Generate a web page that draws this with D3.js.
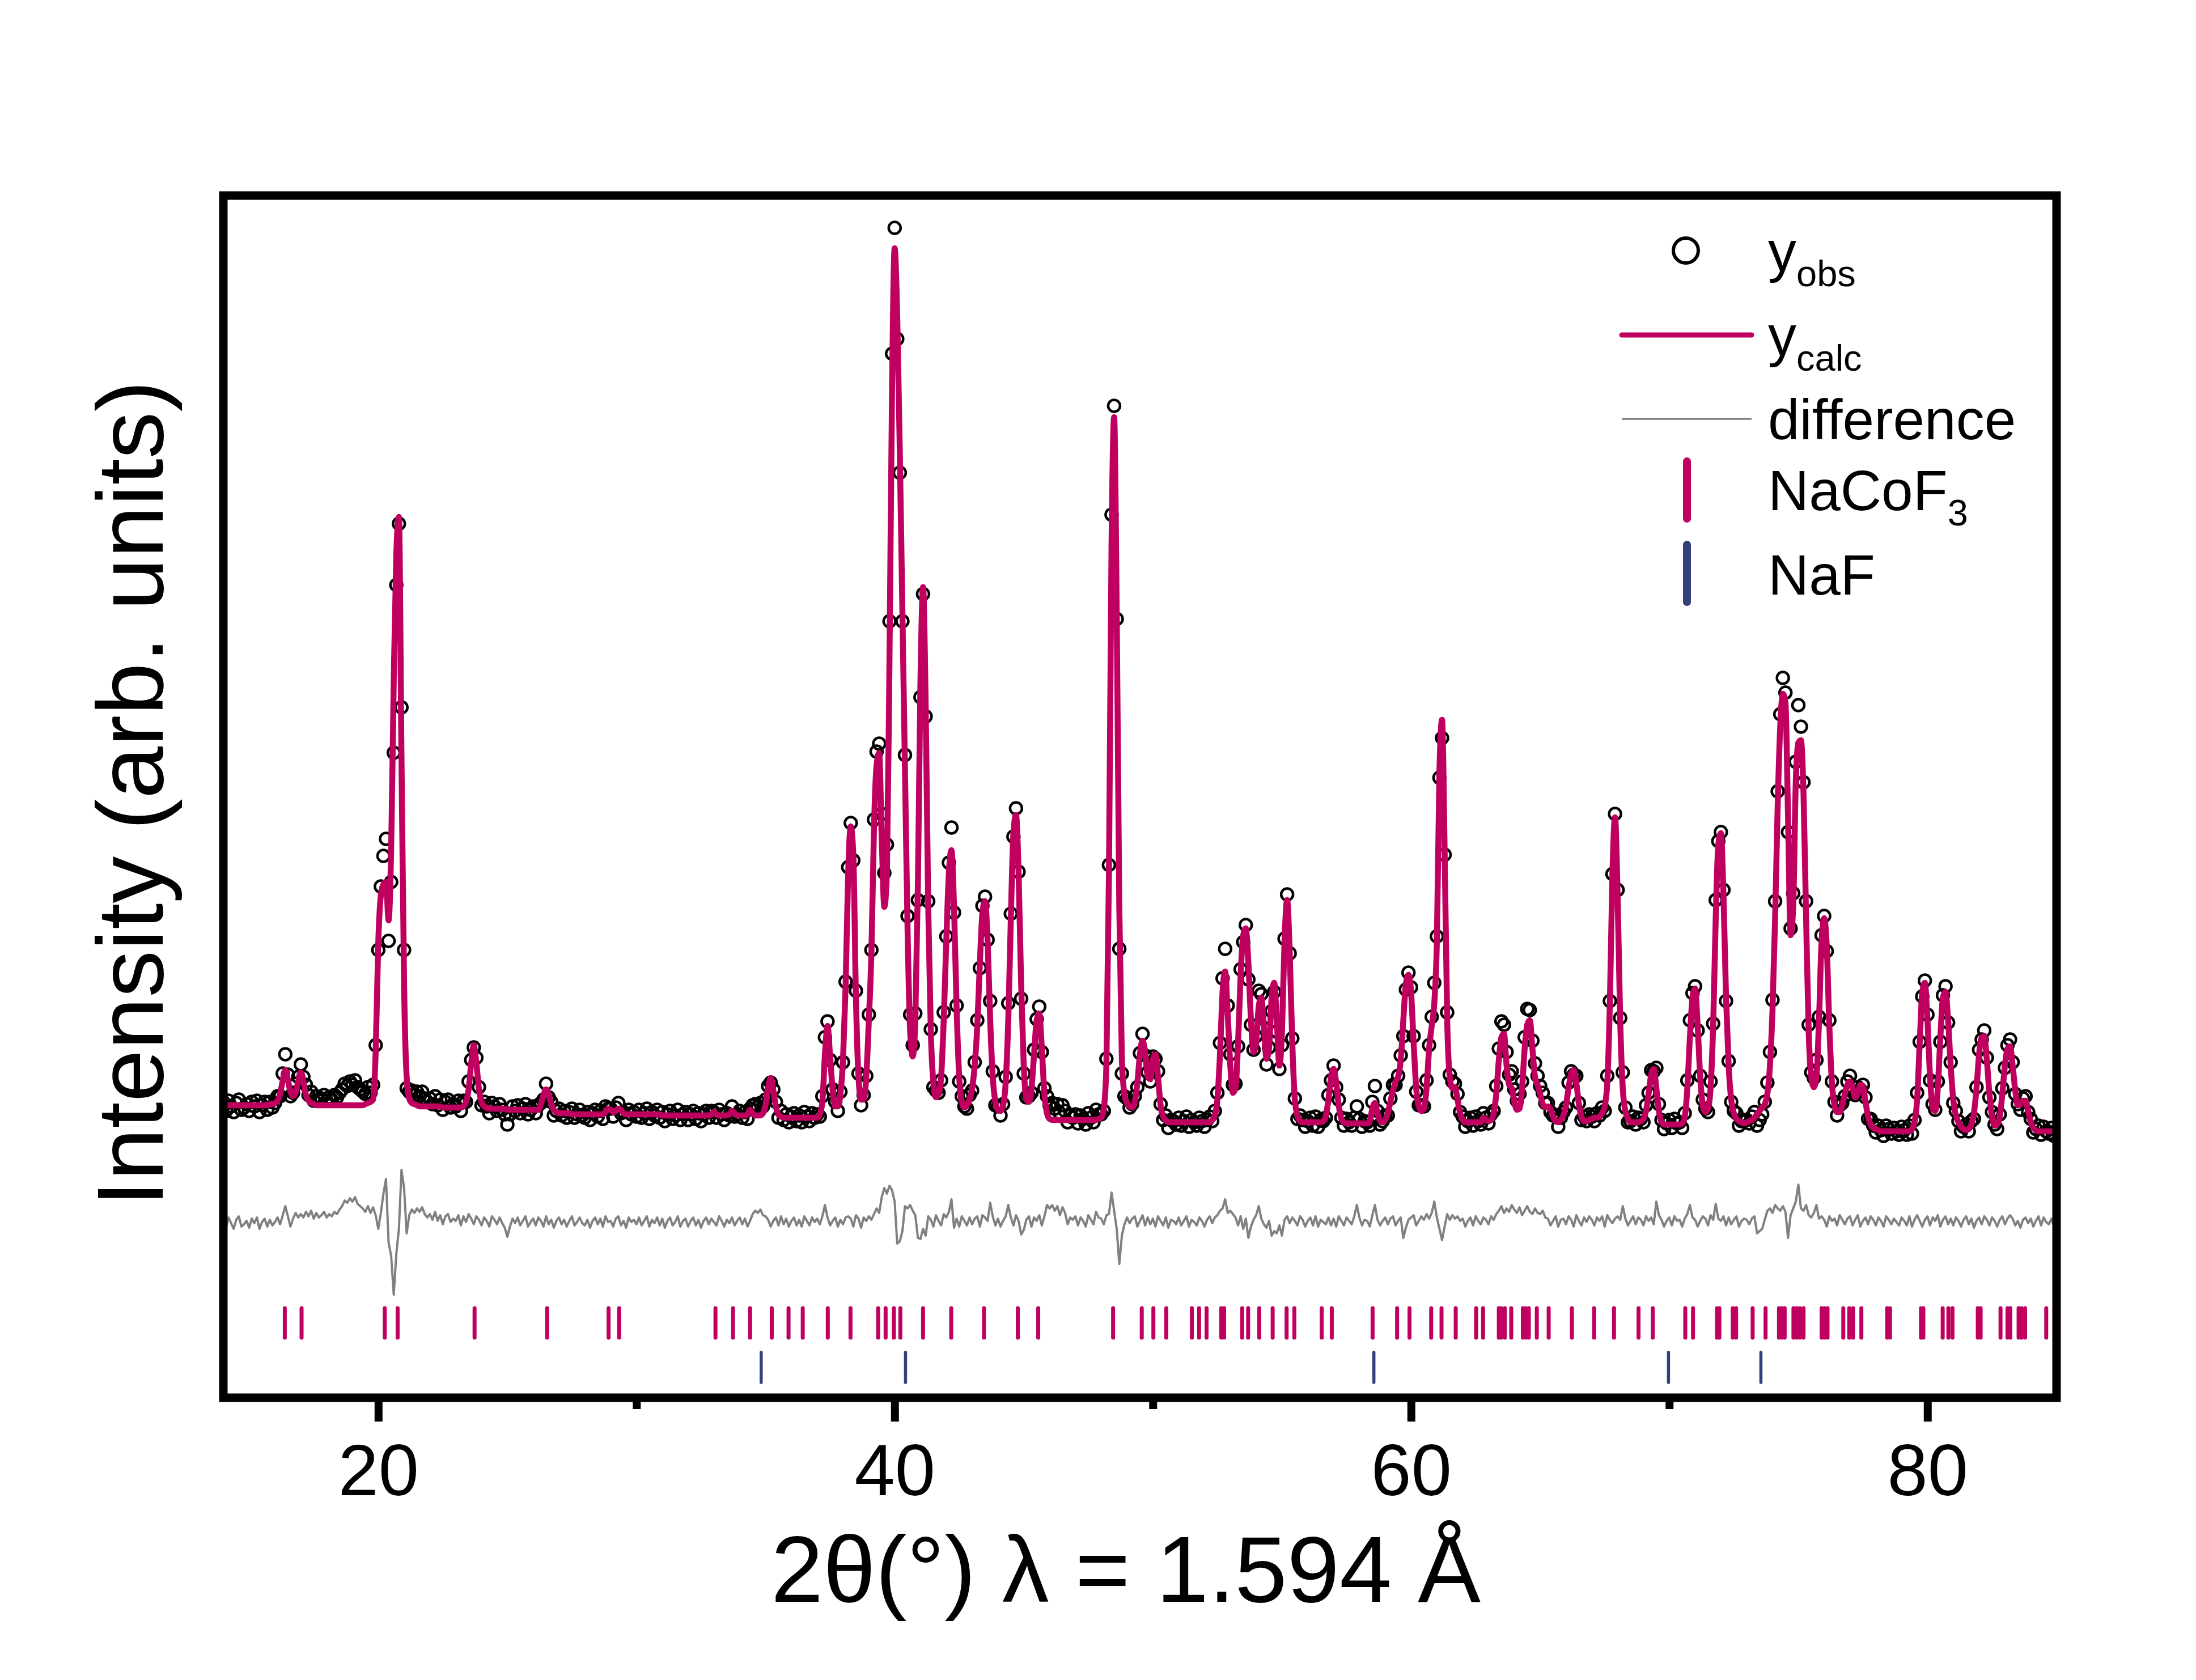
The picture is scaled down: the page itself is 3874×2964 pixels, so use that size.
<!DOCTYPE html>
<html>
<head>
<meta charset="utf-8">
<script src="https://cdn.jsdelivr.net/npm/d3@7"></script>
<style>
  body { margin: 0; background: #fff; }
  svg { display: block; }
  text { font-family: "Liberation Sans", Arial, Helvetica, sans-serif; fill: #000; }
</style>
</head>
<body>
<svg width="3874" height="2964"></svg>
<script>
// 2theta grid of the pattern (degrees)
const tthStart = 14.0;
const tthStep = 0.1;

// calculated profile, one row per degree (14.0 ... 84.9, then 85.0)
const yCalc = [
  125,125,125,125,125,125,125,125,125,125,
  125,125,125,125,125,125,125,125,126,126,
  127,129,135,147,156,147,137,133,136,146,
  154,146,134,129,127,126,125,125,125,125,
  125,125,125,125,125,125,125,125,125,125,
  125,125,125,125,125,126,127,128,130,172,
  268,310,320,322,288,352,500,612,644,430,
  232,150,131,127,126,125,124,124,124,124,
  124,124,124,124,124,123,123,123,123,123,
  123,123,123,124,128,139,162,178,162,139,
  128,124,123,122,122,122,122,122,122,122,
  121,121,121,121,121,121,121,121,121,121,
  121,121,121,126,134,139,134,126,121,119,
  118,118,118,118,118,117,117,117,117,117,
  117,117,117,117,117,117,117,117,119,122,
  121,119,120,122,121,118,117,117,117,117,
  117,117,117,117,117,117,117,117,117,117,
  116,116,116,116,116,116,116,116,116,116,
  116,116,116,116,116,116,116,116,116,117,
  119,117,116,116,116,116,117,120,118,116,
  116,116,116,117,121,118,116,116,116,118,
  125,140,149,138,124,117,115,114,114,114,
  114,114,114,114,114,114,114,114,114,114,
  114,117,128,170,195,168,138,124,124,135,
  165,230,330,371,345,220,150,130,130,150,
  200,260,370,425,436,360,300,330,520,760,
  881,820,700,560,420,280,190,168,200,320,
  500,582,480,300,190,145,132,135,150,200,
  270,330,350,300,210,150,128,123,125,130,
  140,160,195,250,295,305,270,200,150,128,
  121,120,125,145,200,290,365,381,330,230,
  160,130,128,140,170,200,206,175,135,118,
  113,112,112,112,112,112,112,112,112,112,
  112,112,112,112,112,112,112,112,112,113,
  114,122,160,330,620,732,560,300,165,135,
  127,124,123,128,145,170,182,172,150,148,
  165,170,150,125,115,112,110,110,110,110,
  110,110,110,110,110,110,110,110,110,110,
  110,110,110,112,116,130,170,225,243,205,
  160,136,140,180,240,275,281,250,200,172,
  180,212,220,195,166,175,220,233,200,160,
  190,270,306,260,180,130,116,111,110,110,
  110,110,110,110,110,110,111,116,130,150,
  157,145,125,113,110,109,109,109,109,109,
  109,109,109,109,111,122,127,118,111,110,
  112,118,128,138,146,150,165,200,232,240,
  225,180,140,124,120,122,140,175,195,215,
  270,420,465,350,200,150,140,141,130,118,
  112,110,110,110,110,110,110,110,114,112,
  111,112,118,135,165,185,188,160,143,140,
  128,121,122,140,175,196,200,175,150,143,
  135,126,123,124,122,115,111,110,112,116,
  125,140,153,156,145,126,115,111,111,112,
  113,114,114,115,118,124,145,215,330,379,
  310,200,140,120,113,110,110,110,110,111,
  113,120,135,152,157,140,120,110,108,108,
  108,108,108,108,108,109,115,140,185,220,
  228,195,150,125,119,122,140,195,290,355,
  365,310,220,160,130,118,113,111,110,109,
  110,111,112,114,117,120,123,126,135,160,
  210,290,390,460,488,480,380,275,300,410,
  445,447,400,290,190,150,141,150,200,270,
  290,265,195,145,125,119,119,125,135,143,
  146,140,132,135,143,142,128,115,108,105,
  104,103,102,102,102,102,102,102,102,102,
  102,102,102,102,104,110,130,180,225,233,
  200,150,122,120,140,185,220,225,200,160,
  130,116,110,106,104,103,104,108,118,140,
  170,185,186,165,135,115,107,108,115,135,
  160,175,177,160,138,125,126,129,129,120,
  110,105,103,102,102,102,102,102,102,102,
  102
];

// difference curve yobs - ycalc, same grid
const yDiff = [
  3,-5,4,-1,-6,2,5,-4,-2,1,
  -5,3,-1,4,-6,0,3,-4,2,-3,
  0,4,-2,6,14,5,-4,3,8,4,
  7,4,9,5,10,3,8,4,6,9,
  4,7,5,9,7,11,14,19,17,21,
  18,22,16,14,12,9,14,8,13,6,
  -6,8,25,38,-18,-30,-64,-28,-6,46,
  30,-10,6,11,8,12,9,13,7,4,
  7,2,9,1,6,-2,5,7,0,3,
  1,6,-3,5,0,7,3,-2,5,2,
  -3,4,1,-4,5,2,-2,4,-1,-5,
  -13,-4,3,-1,4,-3,1,5,-4,0,
  3,-3,4,1,-4,5,-2,2,-5,1,
  4,-2,2,-4,1,5,-3,0,4,-1,
  -3,2,-5,1,4,-2,3,-4,5,0,
  1,-4,3,5,-3,1,-5,4,0,2,
  -2,4,-3,1,5,-4,2,-1,4,-3,
  3,-5,1,4,-3,0,5,-4,1,3,
  -4,1,4,-3,2,-5,1,4,-2,3,
  0,-3,5,1,-4,2,-1,4,-3,1,
  4,-2,3,-4,1,7,10,8,11,6,
  5,2,-4,1,4,-3,5,-2,3,-4,
  1,4,-3,2,-4,5,1,-3,4,0,
  3,-2,5,15,4,-3,1,4,-4,2,
  -2,4,5,3,-4,6,3,-5,4,1,
  5,2,7,12,8,22,30,25,32,28,
  18,-19,-17,-8,14,12,15,10,6,-14,
  -15,-6,-12,5,2,-4,6,1,-3,7,
  4,9,20,-5,3,-4,5,1,-3,4,
  -2,3,5,-4,6,4,1,17,5,-3,
  3,-4,1,5,15,4,-3,6,1,-11,
  -7,2,5,-4,4,1,6,-3,5,15,
  12,15,10,14,6,13,8,-2,4,2,
  5,-3,4,1,-4,6,2,-2,9,4,
  3,-2,6,7,26,10,-6,-37,-12,-2,
  4,-1,3,5,-4,1,6,-3,4,-2,
  3,-4,5,1,-3,4,-5,2,1,-2,
  4,-3,1,5,-4,2,0,-3,4,1,
  -4,2,5,-1,4,6,10,12,20,8,
  10,7,4,-3,5,-6,3,-14,-4,2,
  6,14,3,-2,-5,1,-12,-8,-10,-3,
  -12,2,5,-1,4,1,-3,5,2,-4,
  1,4,-3,5,-4,2,0,-2,4,-3,
  3,-4,5,1,-3,4,1,-2,5,15,
  4,-3,2,1,-4,6,15,2,-3,1,
  4,-2,3,5,-3,1,4,-14,-5,2,
  4,6,-3,1,5,2,7,3,8,18,
  4,-6,-16,-4,7,2,6,3,5,1,
  3,-4,1,4,-3,5,1,-2,4,2,
  -2,5,2,7,10,14,8,12,9,15,
  11,8,13,6,10,14,9,7,12,8,
  7,10,4,3,-3,1,5,-4,2,3,
  -2,5,2,-4,6,1,-3,4,0,5,
  2,-3,4,1,5,-4,6,2,-1,3,
  5,2,14,3,-3,1,5,-2,4,2,
  -3,5,1,4,-2,18,6,2,-4,1,
  4,-3,5,1,2,-4,3,7,15,4,
  2,-4,1,5,3,-3,6,2,16,3,
  1,5,-3,4,-2,2,5,-4,1,3,
  2,-2,3,5,-10,-8,-6,2,10,12,
  8,15,12,10,14,9,-14,6,12,18,
  33,12,10,15,6,4,8,15,3,5,
  2,-4,5,1,3,-3,6,2,-2,3,
  5,-3,2,6,-4,1,4,-2,5,2,
  -3,4,1,-4,5,2,-2,3,0,-3,
  4,1,-3,5,-4,2,6,1,-4,2,
  5,-3,4,1,6,-4,2,5,-2,3,
  -3,4,1,-4,2,5,-2,3,-5,1,
  4,-2,5,2,-3,4,1,-4,2,5,
  -2,3,6,3,-3,1,-5,2,4,-1,
  3,-4,1,5,-3,4,0,-2,3,-4,
  1
];

// Bragg reflection positions (2theta)
const naCoF3Peaks = [16.38, 17.03, 20.25, 20.75, 23.73, 26.54, 28.92, 29.33, 33.06, 33.74,
  34.40, 35.24, 35.89, 36.44, 37.41, 38.29, 39.36, 39.65, 39.97, 40.22, 41.10, 42.19,
  43.46, 44.77, 45.56, 48.46, 49.57, 50.02, 50.52, 51.51, 51.79, 52.08, 52.65, 52.76,
  53.46, 53.69, 54.12, 54.64, 55.18, 55.48, 56.54, 56.93, 58.51, 59.46, 59.94, 60.78,
  61.18, 61.73, 62.52, 62.79, 63.40, 63.49, 63.63, 63.88, 64.33, 64.44, 64.56, 64.87,
  65.33, 66.23, 67.09, 67.86, 68.81, 69.36, 70.62, 70.92, 71.85, 71.94, 72.46, 72.59,
  73.23, 73.73, 74.25, 74.36, 74.47, 74.81, 74.93, 75.06, 75.20, 75.90, 76.01, 76.13,
  76.74, 76.97, 77.12, 77.44, 78.44, 78.55, 79.75, 79.84, 80.59, 80.81, 80.97, 81.95,
  82.06, 82.83, 83.10, 83.21, 83.53, 83.64, 83.78, 84.60];
const naFPeaks = [34.83, 40.42, 58.56, 69.97, 73.55];

const majorTicks = [20, 40, 60, 80];
const minorTicks = [30, 50, 70];

const calcColor = "#c0005f",
  diffColor = "#808080",
  nafColor = "#33407a";

if (yCalc.length !== yDiff.length) console.warn("length mismatch", yCalc.length, yDiff.length);

var pattern = yCalc.map(function(c, i) {
  return {
    tth: +(tthStart + i * tthStep).toFixed(2),
    calc: c,
    diff: yDiff[i],
    obs: c + yDiff[i]
  };
});

var diffOffset = 22;

var svg = d3.select("svg"),
  margin = { top: 345, left: 394 },
  width = 3234,
  height = 2121;

var x = d3.scaleLinear().domain([14, 85]).range([0, width]);
var y = d3.scaleLinear().domain([-133, 927.5]).range([height, 0]);

var g = svg.append("g").attr("transform", "translate(" + margin.left + "," + margin.top + ")");

g.append("clipPath").attr("id", "plot-clip")
  .append("rect").attr("width", width).attr("height", height);

var plot = g.append("g").attr("clip-path", "url(#plot-clip)");

// difference curve
plot.append("path")
  .datum(pattern)
  .attr("fill", "none")
  .attr("stroke", diffColor)
  .attr("stroke-width", 4)
  .attr("stroke-linejoin", "round")
  .attr("d", d3.line().x(d => x(d.tth)).y(d => y(d.diff + diffOffset)));

// reflection markers
plot.selectAll("line.nacof3")
  .data(naCoF3Peaks)
  .enter().append("line")
  .attr("class", "nacof3")
  .attr("x1", d => x(d)).attr("x2", d => x(d))
  .attr("y1", height - 158).attr("y2", height - 106)
  .attr("stroke", calcColor)
  .attr("stroke-width", 7)
  .attr("stroke-linecap", "round");

plot.selectAll("line.naf")
  .data(naFPeaks)
  .enter().append("line")
  .attr("class", "naf")
  .attr("x1", d => x(d)).attr("x2", d => x(d))
  .attr("y1", height - 80).attr("y2", height - 27)
  .attr("stroke", nafColor)
  .attr("stroke-width", 5.5)
  .attr("stroke-linecap", "round");

// observed points
plot.selectAll("circle.obs")
  .data(pattern)
  .enter().append("circle")
  .attr("class", "obs")
  .attr("cx", d => x(d.tth))
  .attr("cy", d => y(d.obs))
  .attr("r", 10.5)
  .attr("fill", "none")
  .attr("stroke", "#000")
  .attr("stroke-width", 4.5);

// calculated profile
plot.append("path")
  .datum(pattern)
  .attr("fill", "none")
  .attr("stroke", calcColor)
  .attr("stroke-width", 10.5)
  .attr("stroke-linejoin", "round")
  .attr("d", d3.line().curve(d3.curveMonotoneX).x(d => x(d.tth)).y(d => y(d.calc)));

// x axis, outward ticks
var xAxis = g.append("g")
  .attr("transform", "translate(0," + height + ")")
  .call(d3.axisBottom(x).tickValues(majorTicks).tickSize(42).tickFormat(d3.format("d")));
xAxis.select(".domain").remove();
xAxis.selectAll(".tick line").attr("stroke", "#000").attr("stroke-width", 14);
xAxis.selectAll(".tick text")
  .attr("y", 172).attr("dy", 0)
  .attr("font-size", 128)
  .attr("font-family", "Liberation Sans, Arial, sans-serif");

var xMinor = g.append("g")
  .attr("transform", "translate(0," + height + ")")
  .call(d3.axisBottom(x).tickValues(minorTicks).tickSize(20).tickFormat(""));
xMinor.select(".domain").remove();
xMinor.selectAll(".tick line").attr("stroke", "#000").attr("stroke-width", 14);

// frame
g.append("rect")
  .attr("width", width).attr("height", height)
  .attr("fill", "none")
  .attr("stroke", "#000")
  .attr("stroke-width", 15);

// axis titles
svg.append("text")
  .attr("x", 1986).attr("y", 2826)
  .attr("text-anchor", "middle")
  .attr("font-size", 166)
  .text("2θ(°) λ = 1.594 Å");

svg.append("text")
  .attr("transform", "translate(287,1400) rotate(-90)")
  .attr("text-anchor", "middle")
  .attr("font-size", 166)
  .text("Intensity (arb. units)");

// legend
var legend = svg.append("g");

legend.append("circle")
  .attr("cx", 2974).attr("cy", 442).attr("r", 22)
  .attr("fill", "none").attr("stroke", "#000").attr("stroke-width", 6);

legend.append("line")
  .attr("x1", 2861).attr("x2", 3090).attr("y1", 591).attr("y2", 591)
  .attr("stroke", calcColor).attr("stroke-width", 9).attr("stroke-linecap", "round");

legend.append("line")
  .attr("x1", 2861).attr("x2", 3090).attr("y1", 739).attr("y2", 739)
  .attr("stroke", diffColor).attr("stroke-width", 3.5);

legend.append("line")
  .attr("x1", 2976).attr("x2", 2976).attr("y1", 814).attr("y2", 915)
  .attr("stroke", calcColor).attr("stroke-width", 14).attr("stroke-linecap", "round");

legend.append("line")
  .attr("x1", 2976).attr("x2", 2976).attr("y1", 961).attr("y2", 1062)
  .attr("stroke", nafColor).attr("stroke-width", 14).attr("stroke-linecap", "round");

var legendLabels = [
  { main: "y", sub: "obs", y: 478 },
  { main: "y", sub: "calc", y: 627 },
  { main: "difference", sub: "", y: 775 },
  { main: "NaCoF", sub: "3", y: 900 },
  { main: "NaF", sub: "", y: 1049 }
];

legendLabels.forEach(function(d) {
  var t = legend.append("text")
    .attr("x", 3119).attr("y", d.y)
    .attr("font-size", 100);
  t.append("tspan").text(d.main);
  if (d.sub) {
    t.append("tspan").attr("dy", 27).attr("font-size", 65).text(d.sub);
  }
});
</script>
</body>
</html>
